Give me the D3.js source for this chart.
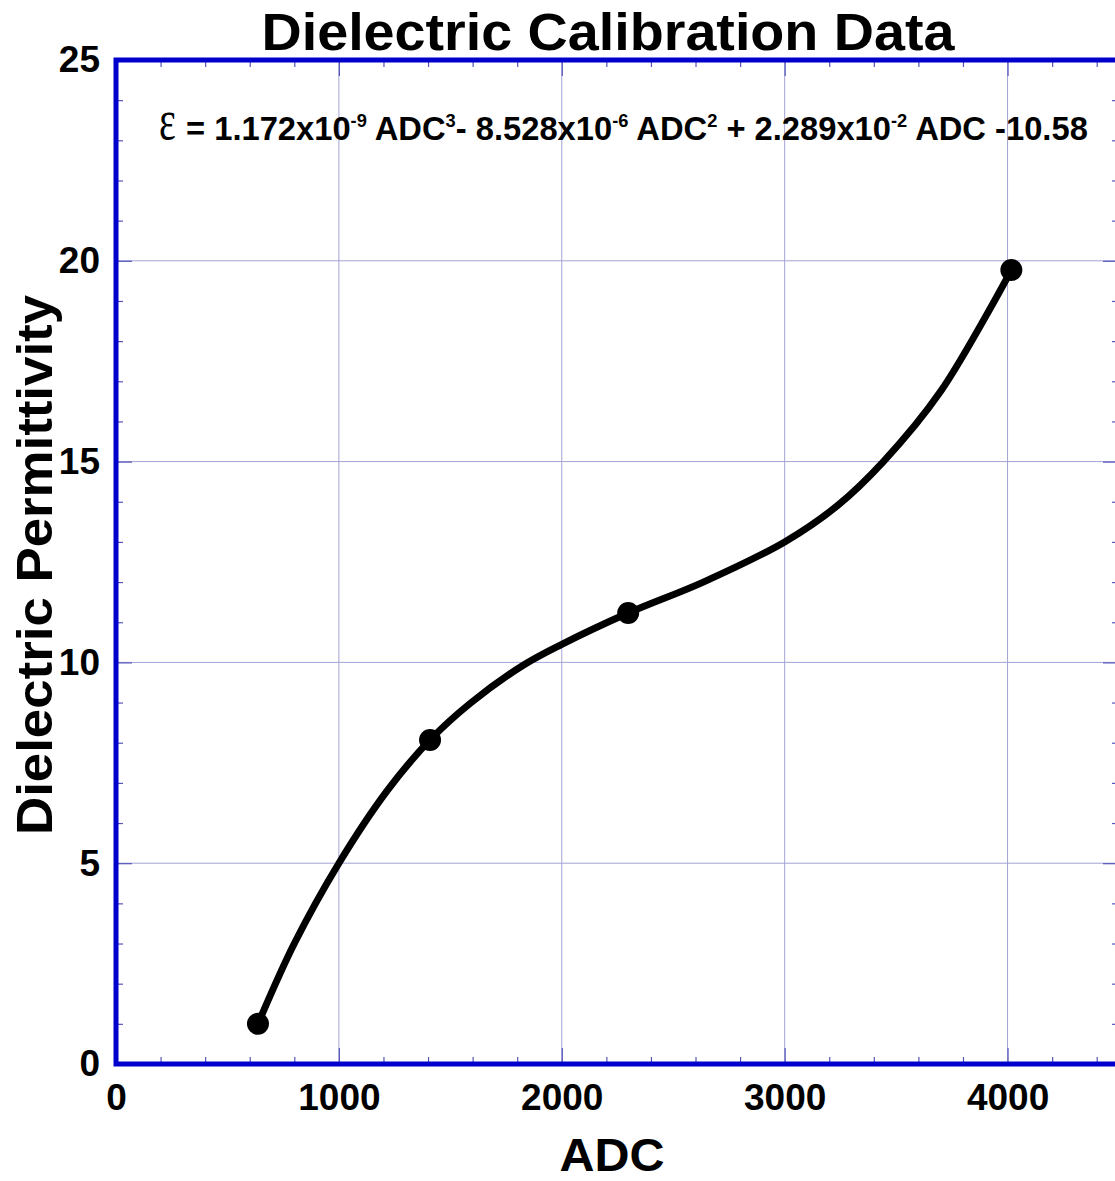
<!DOCTYPE html>
<html>
  <head>
    <title>Dielectric Calibration Data</title>
    <style>
      body { margin: 0; background: #fff; }
      svg { display: block; }
      text { font-family: "Liberation Sans", Arial, Helvetica, sans-serif; font-weight: bold; fill: #000; }
      .grid line { stroke: #a3a3d6; stroke-width: 1; }
      .ticks line { stroke: #5555bb; stroke-width: 1.2; }
      .ticks path { display: none; }
      .labels path, .labels line { display: none; }
      .labels text { font-size: 37px; }
      .frame { fill: none; stroke: #0000cc; stroke-width: 5; }
      .fit { fill: none; stroke: #000; stroke-width: 7; stroke-linejoin: round; stroke-linecap: round; }
    </style>
  </head>
  <body>
    <svg width="1115" height="1181"></svg>
  </body>
  <script src="https://d3js.org/d3.v7.min.js"></script>
  <script>
    // measured calibration points
    const pointADC = [637, 1409, 2298, 4017];
    const pointEps = [1.0, 8.07, 11.23, 19.77];

    // fitted curve
    const fitADC = [637, 800, 1000, 1216, 1409, 1589, 1827, 2000, 2298, 2635, 3000, 3236, 3443, 3700, 4017];
    const fitEps = [1.0, 3.0, 5.0, 6.8, 8.07, 8.98, 9.93, 10.45, 11.23, 12.0, 13.0, 13.9, 15.0, 16.75, 19.77];

    const xMajor = [0, 1000, 2000, 3000, 4000];
    const xMinor = [200, 400, 600, 800, 1200, 1400, 1600, 1800, 2200, 2400, 2600, 2800, 3200, 3400, 3600, 3800, 4200, 4400];
    const yMajor = [0, 5, 10, 15, 20, 25];
    const yMinor = [1, 2, 3, 4, 6, 7, 8, 9, 11, 12, 13, 14, 16, 17, 18, 19, 21, 22, 23, 24];

    const svg = d3.select('svg');
    const plotL = 116, plotR = 1119, plotT = 60, plotB = 1064;

    const x = d3.scaleLinear().domain([0, 4500]).range([plotL, plotR]);
    const y = d3.scaleLinear().domain([0, 25]).range([plotB, plotT]);

    // grid
    const grid = svg.append('g').attr('class', 'grid');
    grid.selectAll('.gx').data(xMajor.slice(1)).enter().append('line')
      .attr('x1', d => x(d)).attr('x2', d => x(d)).attr('y1', plotT).attr('y2', plotB);
    grid.selectAll('.gy').data(yMajor.slice(1, -1)).enter().append('line')
      .attr('y1', d => y(d)).attr('y2', d => y(d)).attr('x1', plotL).attr('x2', plotR);

    // inward ticks on all four sides
    function ticks(axis, vals, size, tr) {
      svg.append('g').attr('class', 'ticks').attr('transform', tr)
        .call(axis.tickValues(vals).tickSize(size).tickFormat(''));
    }
    ticks(d3.axisBottom(x), xMinor, -7, `translate(0,${plotB})`);
    ticks(d3.axisBottom(x), xMajor, -16, `translate(0,${plotB})`);
    ticks(d3.axisTop(x), xMinor, -7, `translate(0,${plotT})`);
    ticks(d3.axisTop(x), xMajor, -16, `translate(0,${plotT})`);
    ticks(d3.axisLeft(y), yMinor, -7, `translate(${plotL},0)`);
    ticks(d3.axisLeft(y), yMajor, -16, `translate(${plotL},0)`);
    ticks(d3.axisRight(y), yMinor, -7, `translate(${plotR},0)`);
    ticks(d3.axisRight(y), yMajor, -16, `translate(${plotR},0)`);

    // fit curve
    const line = d3.line()
      .x((d, i) => x(fitADC[i]))
      .y(d => y(d))
      .curve(d3.curveCatmullRom.alpha(0.5));
    svg.append('path').attr('class', 'fit').attr('d', line(fitEps));

    // points
    svg.append('g').selectAll('circle')
      .data(pointEps).enter().append('circle')
      .attr('cx', (d, i) => x(pointADC[i]))
      .attr('cy', d => y(d))
      .attr('r', 11)
      .attr('fill', '#000');

    // frame
    svg.append('rect').attr('class', 'frame')
      .attr('x', plotL).attr('y', plotT)
      .attr('width', plotR - plotL).attr('height', plotB - plotT);

    // tick labels
    svg.append('g').attr('class', 'labels')
      .attr('transform', `translate(0,${plotB})`)
      .call(d3.axisBottom(x).tickValues(xMajor).tickSize(0).tickPadding(20).tickFormat(d3.format('d')));
    svg.append('g').attr('class', 'labels')
      .attr('transform', `translate(${plotL},0)`)
      .call(d3.axisLeft(y).tickValues(yMajor).tickSize(0).tickPadding(16).tickFormat(d3.format('d')));

    // titles
    svg.append('text')
      .attr('x', 608).attr('y', 50)
      .attr('text-anchor', 'middle')
      .style('font-size', '51px')
      .attr('textLength', 693).attr('lengthAdjust', 'spacingAndGlyphs')
      .text('Dielectric Calibration Data');

    svg.append('text')
      .attr('x', 612).attr('y', 1171)
      .attr('text-anchor', 'middle')
      .style('font-size', '47px')
      .attr('textLength', 105).attr('lengthAdjust', 'spacingAndGlyphs')
      .text('ADC');

    svg.append('text')
      .attr('transform', 'translate(52,565) rotate(-90)')
      .attr('text-anchor', 'middle')
      .style('font-size', '50px')
      .attr('textLength', 540).attr('lengthAdjust', 'spacingAndGlyphs')
      .text('Dielectric Permittivity');

    // equation
    svg.append('text')
      .attr('transform', 'translate(159,139) scale(1,1.4)')
      .style('font-family', '"Liberation Serif", "DejaVu Serif", serif')
      .style('font-weight', 'normal')
      .style('font-size', '40px')
      .text('ε');

    const eq = svg.append('text')
      .style('font-size', '34px');
    const parts = [
      ['= 1.172x10', ''], ['-9', 'sup'], [' ADC', ''], ['3', 'sup'],
      ['- 8.528x10', ''], ['-6', 'sup'], [' ADC', ''], ['2', 'sup'],
      [' + 2.289x10', ''], ['-2', 'sup'], [' ADC', ''], [' -10.58', '']
    ];
    let raised = false;
    parts.forEach(p => {
      const t = eq.append('tspan').text(p[0]);
      if (p[1] === 'sup') {
        t.style('font-size', '19px').attr('dy', raised ? 0 : -13);
        raised = true;
      } else if (raised) {
        t.attr('dy', 13);
        raised = false;
      }
    });
    const eqW = eq.node().getComputedTextLength();
    eq.attr('transform', `translate(186,140) scale(${(1088 - 186) / eqW},1)`);
  </script>
</html>
